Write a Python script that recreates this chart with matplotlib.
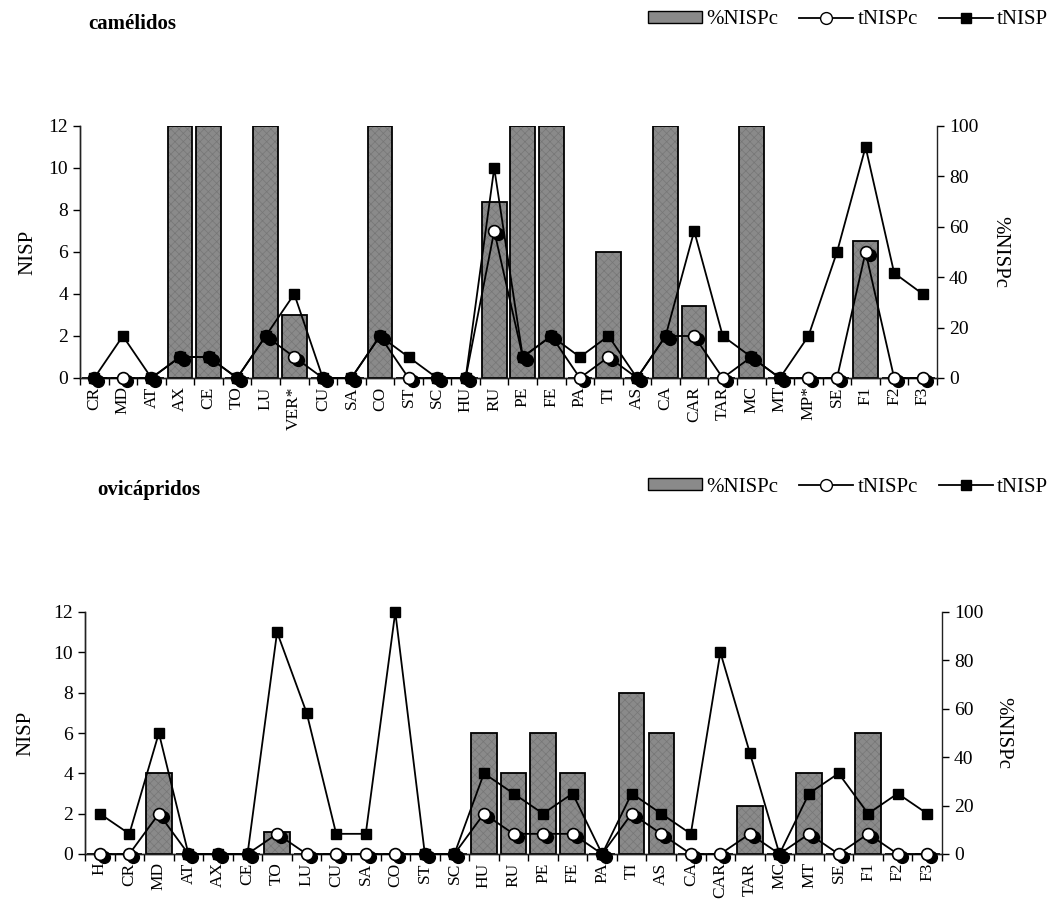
import matplotlib
matplotlib.use("Agg")
import matplotlib.pyplot as plt
import matplotlib.transforms as mtransforms
from matplotlib.patches import Patch
from matplotlib.lines import Line2D
import numpy as np

plt.rcParams['font.family'] = ['Liberation Serif', 'DejaVu Serif']
plt.rcParams['hatch.linewidth'] = 0.5

# ---- camélidos ----
cam_labels = ["CR", "MD", "AT", "AX", "CE", "TO", "LU", "VER*", "CU", "SA",
              "CO", "ST", "SC", "HU", "RU", "PE", "FE", "PA", "TI", "AS",
              "CA", "CAR", "TAR", "MC", "MT", "MP*", "SE", "F1", "F2", "F3"]
cam_tnisp = [0, 2, 0, 1, 1, 0, 2, 4, 0, 0,
             2, 1, 0, 0, 10, 1, 2, 1, 2, 0,
             2, 7, 2, 1, 0, 2, 6, 11, 5, 4]
cam_tnispc = [0, 0, 0, 1, 1, 0, 2, 1, 0, 0,
              2, 0, 0, 0, 7, 1, 2, 0, 1, 0,
              2, 2, 0, 1, 0, 0, 0, 6, 0, 0]
cam_pct = [0, 0, 0, 100, 100, 0, 100, 25, 0, 0,
           100, 0, 0, 0, 70, 100, 100, 0, 50, 0,
           100, 28.6, 0, 100, 0, 0, 0, 54.5, 0, 0]

# ---- ovicápridos ----
ovi_labels = ["H", "CR", "MD", "AT", "AX", "CE", "TO", "LU", "CU", "SA",
              "CO", "ST", "SC", "HU", "RU", "PE", "FE", "PA", "TI", "AS",
              "CA", "CAR", "TAR", "MC", "MT", "SE", "F1", "F2", "F3"]
ovi_tnisp = [2, 1, 6, 0, 0, 0, 11, 7, 1, 1,
             12, 0, 0, 4, 3, 2, 3, 0, 3, 2,
             1, 10, 5, 0, 3, 4, 2, 3, 2]
ovi_tnispc = [0, 0, 2, 0, 0, 0, 1, 0, 0, 0,
              0, 0, 0, 2, 1, 1, 1, 0, 2, 1,
              0, 0, 1, 0, 1, 0, 1, 0, 0]
ovi_pct = [0, 0, 33.3, 0, 0, 0, 9.1, 0, 0, 0,
           0, 0, 0, 50, 33.3, 50, 33.3, 0, 66.7, 50,
           0, 0, 20, 0, 33.3, 0, 50, 0, 0]

BAR_FACE = "#8a8a8a"
BAR_HATCH = "#767676"

fig = plt.figure(figsize=(10.58, 9.0), dpi=100)


def draw_panel(rect, labels, tnisp, tnispc, pct, title, title_xy, legend_y, ylab_x, y2lab_x):
    ax = fig.add_axes(rect)
    ax2 = ax.twinx()
    ax.set_zorder(ax2.get_zorder() + 1)
    ax.patch.set_visible(False)

    x = np.arange(len(labels))

    # percentage bars on the right axis
    ax2.bar(x, pct, width=0.86, color=BAR_FACE, edgecolor=BAR_HATCH,
            linewidth=0, hatch="xxxx")
    ax2.bar(x, pct, width=0.86, facecolor="none", edgecolor="black",
            linewidth=1.3)

    # tNISPc: white circles with a dark drop shadow
    shadow = mtransforms.offset_copy(ax.transData, fig=fig, x=4, y=-3, units="dots")
    ax.plot(x, tnispc, linestyle="none", marker="o", markersize=8.5,
            markerfacecolor="black", markeredgecolor="black",
            transform=shadow, clip_on=False, zorder=3)
    ax.plot(x, tnispc, color="black", linewidth=1.3, marker="o", markersize=8.5,
            markerfacecolor="white", markeredgecolor="black", markeredgewidth=1.2,
            clip_on=False, zorder=4)
    # tNISP: black squares
    ax.plot(x, tnisp, color="black", linewidth=1.3, marker="s", markersize=7.5,
            markerfacecolor="black", markeredgecolor="black",
            clip_on=False, zorder=5)

    n = len(labels)
    ax.set_xlim(-0.5, n - 0.5)
    ax.set_ylim(0, 12)
    ax2.set_ylim(0, 100)
    ax.set_yticks(range(0, 13, 2))
    ax2.set_yticks(range(0, 101, 20))

    ax.set_xticks(x)
    ax.set_xticklabels(labels, rotation=90, fontsize=12.5)
    ax.set_xticks(np.arange(-0.5, n, 1.0), minor=True)
    ax.tick_params(axis="x", which="major", length=0, pad=6)
    ax.tick_params(axis="x", which="minor", length=5, width=1, direction="out")
    ax.tick_params(axis="y", labelsize=14, length=5, width=1, direction="out")
    ax2.tick_params(axis="y", labelsize=14, length=5, width=1, direction="out")

    for a in (ax, ax2):
        a.spines["top"].set_visible(False)
        for s in ("left", "right", "bottom"):
            a.spines[s].set_linewidth(1.0)
            a.spines[s].set_color("#222222")
    ax.spines["right"].set_visible(False)

    ax.set_ylabel("NISP", fontsize=15)
    ax.yaxis.set_label_coords(ylab_x, 0.5)
    ax2.set_ylabel("%NISPc", fontsize=15, rotation=270, va="center")
    ax2.yaxis.set_label_coords(y2lab_x, 0.5)

    fig.text(title_xy[0], title_xy[1], title, fontsize=15, fontweight="bold",
             ha="left", va="center")

    handles = [
        Patch(facecolor=BAR_FACE, edgecolor="black", linewidth=1.0),
        Line2D([], [], color="black", linewidth=1.3, marker="o", markersize=8.5,
               markerfacecolor="white", markeredgecolor="black"),
        Line2D([], [], color="black", linewidth=1.3, marker="s", markersize=7,
               markerfacecolor="black"),
    ]
    fig.legend(handles, ["%NISPc", "tNISPc", "tNISP"], loc="center right",
               bbox_to_anchor=(1048 / 1058, legend_y), ncol=3, frameon=False,
               fontsize=15, handlelength=2.6, handleheight=0.55,
               handletextpad=0.2, columnspacing=1.0, borderaxespad=0,
               borderpad=0)
    return ax, ax2


draw_panel([80 / 1058, 1 - 378 / 900, 857 / 1058, 252 / 900],
           cam_labels, cam_tnisp, cam_tnispc, cam_pct,
           "camélidos", (88 / 1058, 1 - 24 / 900), 1 - 20 / 900,
           -0.050, 1.0735)
draw_panel([85 / 1058, 1 - 854 / 900, 857 / 1058, 242 / 900],
           ovi_labels, ovi_tnisp, ovi_tnispc, ovi_pct,
           "ovicápridos", (97 / 1058, 1 - 490 / 900), 1 - 487 / 900,
           -0.058, 1.071)

fig.savefig("out.png", dpi=100)
